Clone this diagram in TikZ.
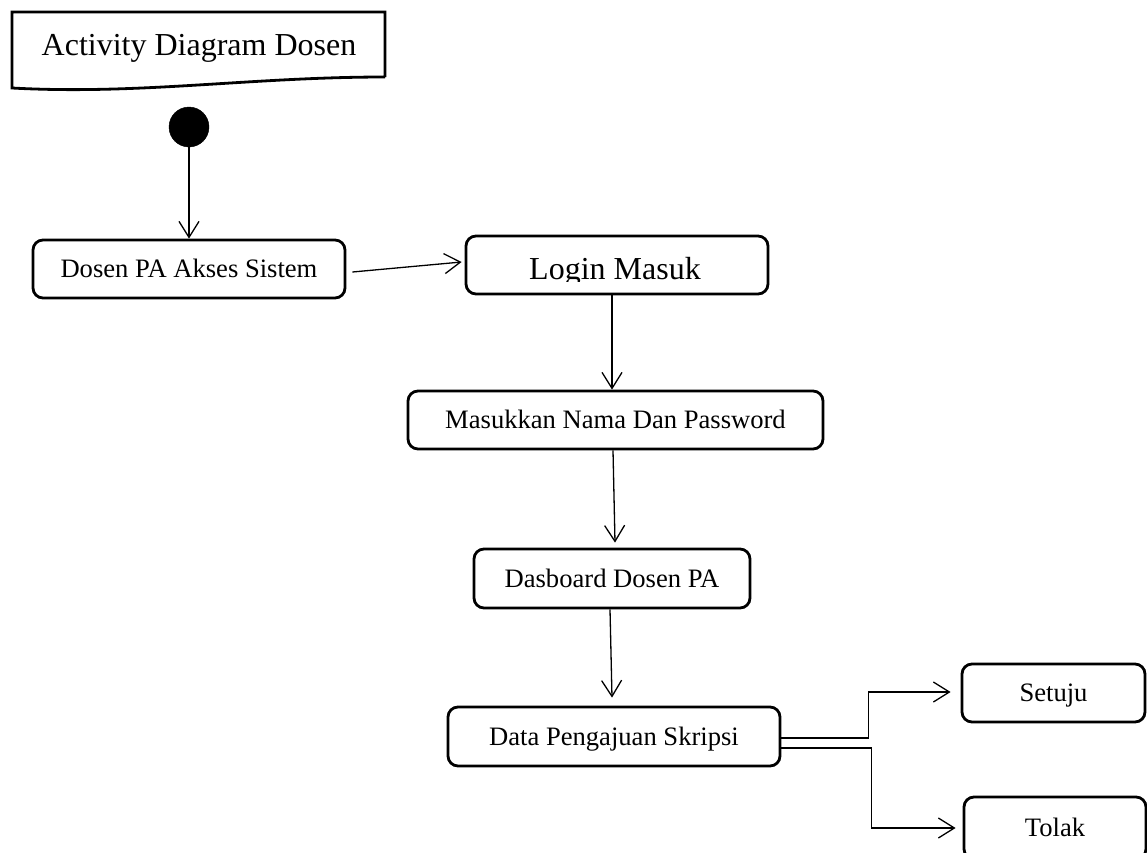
\documentclass[tikz,border=0pt]{standalone}
\usepackage{fontspec}
\setmainfont{Liberation Serif}
\usetikzlibrary{arrows.meta,calc}

\begin{document}
\begin{tikzpicture}[x=1pt,y=-1pt,
  act/.style={draw, line width=2.8pt, rounded corners=10pt, rectangle,
    inner sep=0pt, text height=17.5pt, text depth=0pt,
    font=\fontsize{26.6}{30}\selectfont},
  flow/.style={line width=1.3pt, -{Straight Barb[length=16pt,width=20pt]}}]
\useasboundingbox (0,0) rectangle (1147,852);

% title frame with a wavy lower edge
\draw[line width=2.8pt, line join=miter]
  (385,77) -- (385,12) -- (12,12) -- (12,88)
  .. controls (140,95) and (250,77) .. (385,77);
\node[font=\fontsize{32}{38}\selectfont, anchor=base] (title) at (199,55) {Activity Diagram Dosen};

% initial state
\node[circle, fill=black, draw=black, minimum size=40pt, inner sep=0pt] (start) at (189,127) {};

% activities
\node[act, minimum width=312pt, minimum height=58pt] (dosen) at (189,269) {Dosen PA Akses Sistem};
\node[act, minimum width=302pt, minimum height=58pt] (login) at (617,265) {};
\begin{scope}
  \clip (470,238) rectangle (765,281);
  \node[font=\fontsize{32}{38}\selectfont, anchor=base] (logintext) at (615,279) {Login Masuk};
\end{scope}
\node[act, minimum width=415pt, minimum height=58pt] (masuk) at (615.5,420) {Masukkan Nama Dan Password};
\node[act, minimum width=276pt, minimum height=59pt] (dash) at (612,578.5) {Dasboard Dosen PA};
\node[act, minimum width=332pt, minimum height=59pt] (data) at (614,736.5) {Data Pengajuan Skripsi};
\node[act, minimum width=183pt, minimum height=58pt] (setuju) at (1053.5,693) {Setuju};
\node[act, minimum width=182pt, minimum height=62pt] (tolak) at (1055,828) {Tolak};

% control flow
\draw[flow] (start.south) -- (dosen.north);
\draw[flow] ($(dosen.east)+(6,3)$) -- ($(login.west)+(-3,-3)$);
\draw[flow] ($(login.south)+(-5,0)$) -- ($(masuk.north)+(-3.5,0)$);
\draw[flow] ($(masuk.south)+(-2.5,0)$) -- ($(dash.north)+(3,-5)$);
\draw[flow] ($(dash.south)+(-2,0)$) -- ($(data.north)+(-2,-8)$);

% decision branches
\draw[flow] ($(data.east)+(0,1.5)$) -- ++(87,0) |- ($(setuju.west)+(-10,-1)$);
\draw[flow] ($(data.east)+(0,11.5)$) -- ++(90,0) |- ($(tolak.west)+(-7,0)$);
\end{tikzpicture}
\end{document}
